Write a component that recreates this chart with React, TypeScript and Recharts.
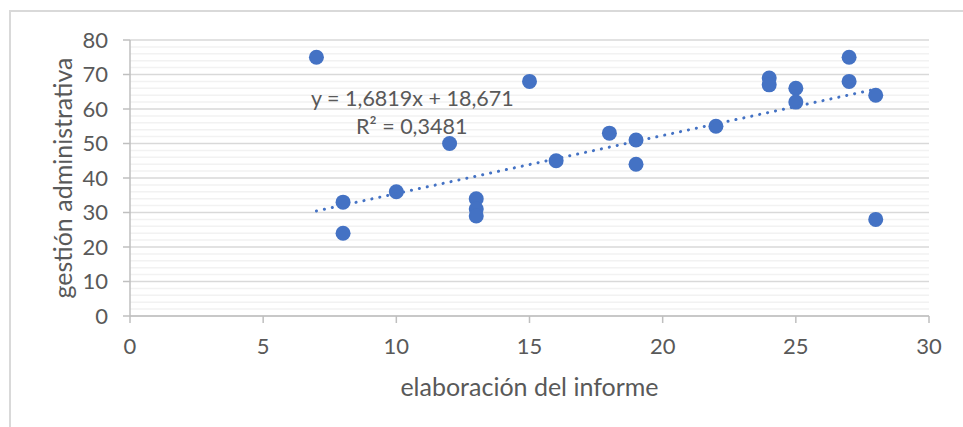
import React from 'react';
import {
  ScatterChart, Scatter, XAxis, YAxis, CartesianGrid, ReferenceLine, Label,
} from 'recharts';

const xValues = [7, 8, 8, 10, 12, 13, 13, 13, 15, 16, 18, 19, 19, 22, 24, 24, 25, 25, 27, 27, 28, 28];
const yValues = [75, 33, 24, 36, 50, 34, 31, 29, 68, 45, 53, 51, 44, 55, 69, 67, 66, 62, 75, 68, 64, 28];
const xTicks = [0, 5, 10, 15, 20, 25, 30];
const yTicks = [0, 10, 20, 30, 40, 50, 60, 70, 80];
const minorY = [2, 4, 6, 8, 12, 14, 16, 18, 22, 24, 26, 28, 32, 34, 36, 38, 42, 44, 46, 48, 52, 54, 56, 58, 62, 64, 66, 68, 72, 74, 76, 78];
const trendSlope = 1.6819;
const trendIntercept = 18.671;
const trendRange = [7, 28];
const equationText = 'y = 1,6819x + 18,671';
const r2Text = 'R² = 0,3481';

const points = xValues.map((x, i) => ({ x, y: yValues[i] }));
const trend = trendRange.map((x) => ({ x, y: trendSlope * x + trendIntercept }));

const FONT = 'Lato, "Open Sans", sans-serif';
const TXT = '#595959';

export default function App() {
  return (
    <div style={{ position: 'absolute', left: 0, top: 0, width: 963, height: 427, background: '#fff', fontFamily: FONT }}>
      <div style={{ position: 'absolute', left: 9, top: 10, width: 1000, height: 500, borderLeft: '2px solid #D9D9D9', borderTop: '2px solid #D9D9D9', boxSizing: 'border-box' }} />
      <ScatterChart width={963} height={427} margin={{ top: 40, right: 34, left: 0, bottom: 0 }} style={{ position: 'absolute', left: 0, top: 0 }}>
        {minorY.map((v) => (
          <ReferenceLine key={v} y={v} stroke="#F2F2F2" strokeWidth={1.5} ifOverflow="hidden" />
        ))}
        <CartesianGrid vertical={false} stroke="#D9D9D9" strokeWidth={1.5} />
        <XAxis
          type="number"
          dataKey="x"
          domain={[0, 30]}
          ticks={xTicks}
          height={111}
          allowDataOverflow
          tickSize={7}
          tickMargin={15}
          stroke="#BFBFBF"
          strokeWidth={1.5}
          tick={{ fill: TXT, fontSize: 22, fontFamily: FONT }}
        >
          <Label value="elaboración del informe" position="insideBottom" offset={31} fill={TXT} fontSize={25} fontFamily={FONT} />
        </XAxis>
        <YAxis
          type="number"
          dataKey="y"
          domain={[0, 80]}
          ticks={yTicks}
          width={130}
          allowDataOverflow
          tickSize={7}
          tickMargin={15}
          stroke="#BFBFBF"
          strokeWidth={1.5}
          tick={{ fill: TXT, fontSize: 22, fontFamily: FONT }}
        >
          <Label value="gestión administrativa" angle={-90} position="insideLeft" offset={63} fill={TXT} fontSize={25} fontFamily={FONT} style={{ textAnchor: 'middle' }} />
        </YAxis>
        <Scatter data={points} fill="#4472C4" isAnimationActive={false} shape={(p: any) => <circle cx={p.cx} cy={p.cy} r={7.5} fill="#4472C4" />} />
        <Scatter
          data={trend}
          line={{ stroke: '#4472C4', strokeWidth: 3, strokeDasharray: '0.1 8', strokeLinecap: 'round' } as any}
          shape={() => null}
          isAnimationActive={false}
        />
      </ScatterChart>
      <div style={{ position: 'absolute', left: 311, top: 85, color: TXT, fontSize: 21.5, lineHeight: '26px', whiteSpace: 'nowrap' }}>{equationText}</div>
      <div style={{ position: 'absolute', left: 356, top: 113, color: TXT, fontSize: 21.5, lineHeight: '26px', whiteSpace: 'nowrap' }}>{r2Text}</div>
    </div>
  );
}
